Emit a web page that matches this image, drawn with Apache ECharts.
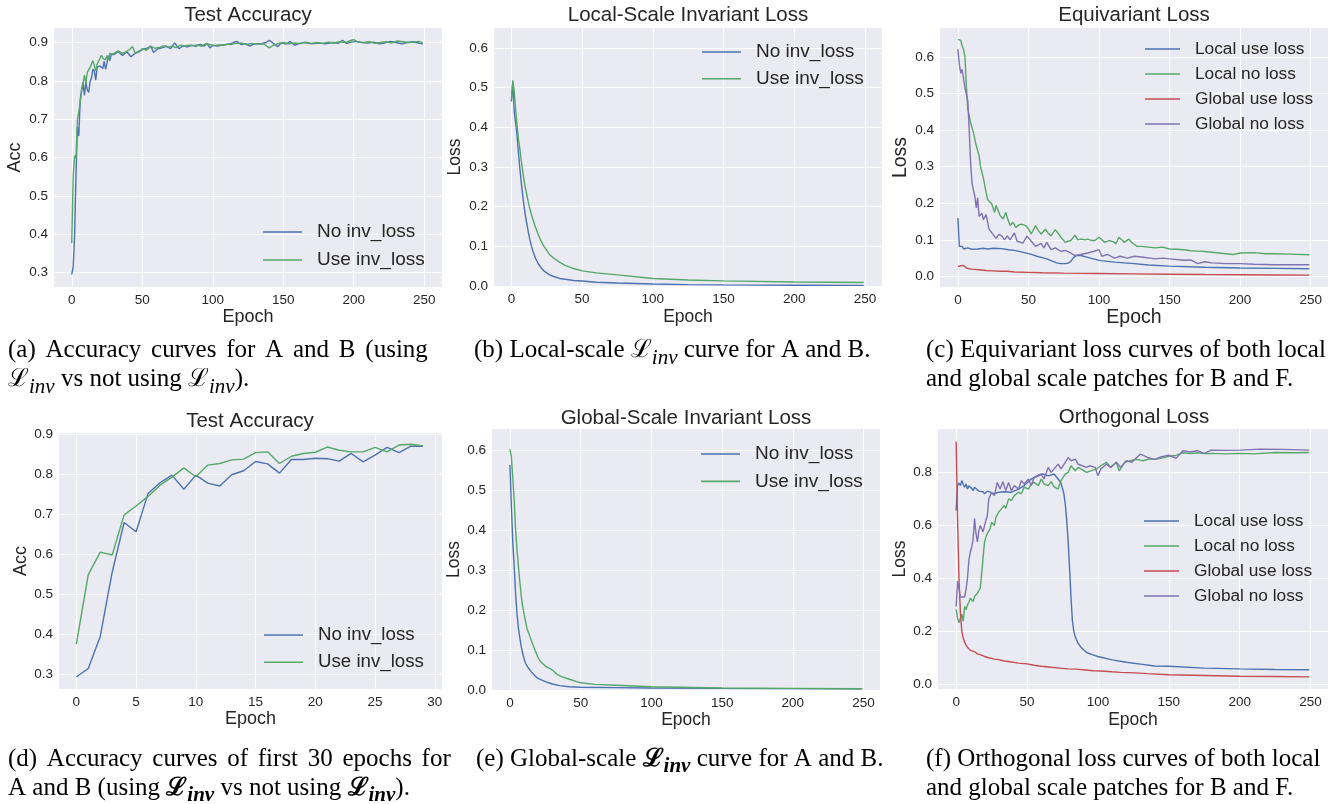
<!DOCTYPE html>
<html>
<head>
<meta charset="UTF-8">
<title>training curves</title>
<script src="https://cdn.jsdelivr.net/npm/echarts@6/dist/echarts.min.js"></script>
<style>
html, body { margin: 0; padding: 0; background: #fff; }
#main { width: 1338px; height: 804px; }
</style>
</head>
<body>
<div id="main"></div>
<script>
// ---- tick labels ----
var epochTicks = [0, 50, 100, 150, 200, 250];
var firstTicks = [0, 5, 10, 15, 20, 25, 30];
var accTicks = [0.3, 0.4, 0.5, 0.6, 0.7, 0.8, 0.9];
var lossTicks = [0, 0.1, 0.2, 0.3, 0.4, 0.5, 0.6];
var orthoTicks = [0, 0.2, 0.4, 0.6, 0.8];

// ---- test accuracy, first 30 epochs (a, d) ----
var firstEpochs = [0,1,2,3,4,5,6,7,8,9,10,11,12,13,14,15,16,17,18,19,20,21,22,23,24,25,26,27,28,29];
var accNoFirst = [0.294,0.315,0.395,0.555,0.679,0.656,0.751,0.778,0.797,0.762,0.797,0.777,0.770,0.798,0.808,
                  0.831,0.825,0.802,0.836,0.836,0.839,0.838,0.832,0.851,0.830,0.847,0.866,0.853,0.869,0.869];
var accUseFirst = [0.376,0.549,0.605,0.598,0.698,0.720,0.744,0.772,0.792,0.815,0.793,0.822,0.826,0.835,0.837,
                   0.853,0.855,0.826,0.844,0.851,0.854,0.867,0.859,0.855,0.855,0.866,0.855,0.872,0.874,0.870];
// rest of the 250 epochs, [epoch, acc]
var accNoLater = [[30,0.869],[33,0.876],[36,0.866],[39,0.876],[42,0.863],[45,0.872],[48,0.878],[51,0.883],[54,0.886],
  [56,0.891],[58,0.874],[61,0.884],[64,0.886],[67,0.891],[70,0.884],[73,0.899],[76,0.884],[79,0.891],[82,0.889],
  [85,0.893],[88,0.89],[91,0.895],[94,0.891],[96,0.897],[98,0.886],[100,0.893],[103,0.891],[106,0.893],[110,0.895],
  [113,0.898],[117,0.903],[120,0.895],[123,0.897],[126,0.891],[130,0.897],[134,0.897],[138,0.9],[140,0.906],
  [143,0.898],[146,0.889],[149,0.9],[152,0.896],[155,0.903],[158,0.893],[161,0.897],[165,0.9],[170,0.897],
  [175,0.899],[180,0.897],[185,0.9],[189,0.898],[192,0.906],[195,0.898],[198,0.901],[202,0.903],[206,0.9],
  [210,0.899],[214,0.901],[218,0.897],[222,0.899],[226,0.903],[230,0.9],[234,0.897],[238,0.9],[242,0.902],
  [246,0.899],[249,0.896]];
var accUseLater = [[30,0.872],[33,0.878],[36,0.872],[39,0.877],[41,0.882],[43,0.89],[45,0.872],[48,0.876],[50,0.884],
  [53,0.88],[56,0.89],[59,0.885],[62,0.887],[65,0.891],[68,0.888],[71,0.89],[74,0.887],[77,0.893],[80,0.891],
  [83,0.893],[86,0.892],[89,0.894],[92,0.89],[95,0.897],[98,0.895],[101,0.892],[104,0.894],[107,0.893],[110,0.896],
  [113,0.895],[116,0.898],[120,0.899],[124,0.895],[128,0.898],[132,0.896],[136,0.897],[140,0.886],[143,0.893],
  [147,0.898],[150,0.9],[154,0.897],[158,0.899],[162,0.898],[166,0.901],[170,0.898],[174,0.9],[178,0.898],
  [182,0.901],[186,0.899],[190,0.902],[194,0.9],[197,0.904],[200,0.908],[203,0.901],[207,0.9],[211,0.902],
  [215,0.898],[219,0.9],[223,0.902],[227,0.899],[231,0.904],[235,0.902],[239,0.9],[243,0.901],[246,0.903],[249,0.899]];

// ---- local-scale invariant loss (b) ----
var invLocalNo = [[0,0.465],[1,0.514],[2,0.44],[3,0.41],[4,0.378],[5,0.335],[6,0.295],[7,0.26],[8,0.228],[9,0.2],
  [10,0.175],[11,0.155],[12,0.135],[13,0.118],[14,0.103],[15,0.09],[17,0.07],[19,0.056],[21,0.046],[23,0.038],
  [25,0.033],[27,0.028],[30,0.024],[34,0.019],[38,0.017],[44,0.014],[50,0.0125],[60,0.0095],[75,0.0075],
  [100,0.005],[125,0.0035],[150,0.0028],[200,0.002],[249,0.0017]];
var invLocalUse = [[0,0.47],[1,0.518],[2,0.49],[3,0.445],[4,0.405],[5,0.37],[6,0.345],[7,0.315],[8,0.29],[9,0.265],
  [10,0.245],[11,0.228],[12,0.21],[13,0.195],[14,0.182],[15,0.17],[17,0.148],[19,0.13],[21,0.113],[23,0.1],
  [25,0.09],[27,0.079],[30,0.07],[34,0.06],[38,0.052],[44,0.044],[50,0.038],[60,0.033],[75,0.028],[100,0.019],
  [125,0.015],[150,0.013],[200,0.01],[249,0.009]];

// ---- equivariant loss (c) ----
var eqLocalUse = [[0,0.16],[1,0.082],[2,0.078],[3,0.082],[4,0.075],[5,0.073],[7,0.078],[10,0.074],[14,0.075],
  [18,0.077],[21,0.075],[25,0.077],[31,0.076],[36,0.073],[40,0.071],[45,0.067],[52,0.06],[56,0.055],[59,0.052],
  [63,0.048],[66,0.043],[70,0.037],[73,0.035],[76,0.035],[78,0.036],[80,0.041],[82,0.052],[84,0.057],[87,0.057],
  [90,0.054],[94,0.05],[98,0.046],[101,0.043],[106,0.041],[111,0.039],[118,0.037],[125,0.035],[135,0.031],
  [150,0.028],[175,0.025],[200,0.023],[225,0.022],[249,0.021]];
var eqLocalNo = [[0,0.648],[1,0.644],[2,0.645],[3,0.63],[4,0.62],[5,0.6],[6,0.52],[7,0.456],[8,0.44],[9,0.42],
  [11,0.393],[13,0.357],[15,0.33],[16,0.3],[17,0.285],[18,0.27],[19,0.265],[20,0.229],[21,0.21],[22,0.205],
  [24,0.198],[26,0.175],[27,0.194],[28,0.19],[30,0.166],[32,0.157],[34,0.175],[35,0.16],[37,0.139],[39,0.148],
  [41,0.134],[43,0.14],[45,0.143],[48,0.139],[50,0.13],[52,0.116],[55,0.139],[57,0.125],[59,0.116],[62,0.129],
  [64,0.118],[66,0.111],[69,0.128],[71,0.118],[73,0.107],[76,0.093],[78,0.096],[80,0.098],[83,0.113],[85,0.1],
  [87,0.102],[90,0.1],[92,0.102],[95,0.098],[97,0.098],[100,0.107],[102,0.1],[104,0.093],[107,0.098],[110,0.095],
  [112,0.089],[114,0.107],[116,0.1],[118,0.093],[121,0.102],[124,0.09],[127,0.082],[130,0.082],[135,0.08],
  [140,0.078],[145,0.08],[150,0.075],[155,0.074],[160,0.073],[165,0.07],[170,0.069],[175,0.068],[180,0.066],
  [185,0.064],[190,0.062],[195,0.06],[200,0.064],[210,0.065],[218,0.062],[225,0.062],[235,0.061],[249,0.059]];
var eqGlobalUse = [[0,0.027],[1,0.026],[2,0.029],[3,0.028],[4,0.03],[5,0.028],[6,0.023],[8,0.021],[10,0.02],
  [15,0.018],[20,0.016],[25,0.015],[30,0.014],[35,0.014],[40,0.012],[50,0.011],[60,0.01],[75,0.009],[100,0.008],
  [125,0.007],[150,0.006],[175,0.005],[200,0.0045],[225,0.004],[249,0.0035]];
var eqGlobalNo = [[0,0.621],[1,0.58],[2,0.555],[3,0.566],[4,0.569],[5,0.515],[6,0.52],[7,0.48],[8,0.4],[9,0.31],
  [10,0.255],[11,0.235],[12,0.219],[13,0.187],[14,0.215],[15,0.164],[17,0.173],[18,0.155],[20,0.169],[22,0.13],
  [23,0.128],[25,0.114],[27,0.104],[29,0.115],[31,0.111],[33,0.1],[35,0.111],[37,0.1],[40,0.119],[42,0.096],
  [46,0.091],[49,0.11],[52,0.096],[55,0.082],[59,0.09],[61,0.078],[63,0.093],[66,0.073],[69,0.078],[73,0.068],
  [76,0.071],[80,0.064],[83,0.057],[87,0.06],[92,0.064],[96,0.068],[100,0.073],[102,0.055],[106,0.06],[111,0.05],
  [115,0.055],[120,0.05],[125,0.055],[130,0.053],[140,0.048],[145,0.05],[150,0.048],[160,0.044],[165,0.045],
  [170,0.035],[175,0.04],[180,0.037],[190,0.035],[200,0.035],[210,0.033],[225,0.032],[249,0.032]];

// ---- global-scale invariant loss (e) ----
var invGlobalNo = [[0,0.564],[1,0.46],[2,0.37],[3,0.31],[4,0.24],[5,0.19],[6,0.155],[7,0.13],[8,0.108],[9,0.092],
  [10,0.078],[11,0.067],[13,0.055],[15,0.046],[17,0.038],[19,0.031],[21,0.027],[25,0.021],[30,0.015],[35,0.011],
  [42,0.008],[50,0.007],[75,0.006],[100,0.005],[150,0.004],[200,0.0035],[249,0.003]];
var invGlobalUse = [[0,0.603],[1,0.585],[2,0.53],[3,0.476],[4,0.4],[5,0.35],[6,0.31],[7,0.27],[8,0.235],[9,0.209],
  [10,0.19],[11,0.172],[12,0.155],[14,0.135],[16,0.115],[18,0.097],[20,0.08],[22,0.07],[25,0.06],[28,0.054],
  [30,0.05],[33,0.04],[36,0.034],[42,0.027],[50,0.018],[60,0.014],[75,0.012],[100,0.008],[150,0.005],[200,0.004],
  [249,0.003]];

// ---- orthogonal loss (f) ----
var orthoLocalUse = [[0,0.657],[1,0.753],[2,0.761],[3,0.751],[4,0.77],[5,0.755],[6,0.745],[7,0.757],[8,0.738],
  [9,0.75],[10,0.753],[11,0.74],[12,0.732],[13,0.745],[14,0.738],[16,0.73],[17,0.726],[19,0.728],[20,0.72],
  [22,0.73],[24,0.726],[26,0.72],[28,0.722],[30,0.726],[34,0.728],[39,0.726],[44,0.738],[48,0.751],[53,0.776],
  [58,0.788],[61,0.795],[65,0.788],[69,0.795],[72,0.776],[74,0.76],[76,0.72],[77,0.68],[78,0.62],[79,0.54],
  [80,0.44],[81,0.33],[82,0.24],[83,0.2],[84,0.18],[86,0.155],[88,0.14],[92,0.12],[96,0.112],[100,0.105],
  [110,0.092],[120,0.083],[130,0.076],[140,0.069],[150,0.068],[175,0.061],[200,0.058],[225,0.056],[249,0.055]];
var orthoLocalNo = [[0,0.282],[1,0.25],[2,0.232],[3,0.25],[4,0.265],[5,0.238],[6,0.294],[7,0.282],[8,0.3],[9,0.31],
  [10,0.325],[11,0.318],[12,0.313],[13,0.332],[14,0.335],[15,0.344],[16,0.35],[17,0.363],[18,0.419],[19,0.426],
  [20,0.538],[21,0.557],[22,0.57],[24,0.588],[25,0.613],[27,0.6],[28,0.63],[30,0.651],[32,0.663],[34,0.676],
  [35,0.665],[37,0.701],[39,0.695],[41,0.713],[44,0.726],[46,0.72],[48,0.745],[51,0.738],[53,0.757],[55,0.763],
  [58,0.751],[60,0.776],[62,0.757],[65,0.751],[67,0.766],[69,0.747],[72,0.738],[74,0.77],[77,0.795],[79,0.801],
  [81,0.826],[84,0.807],[86,0.82],[88,0.814],[92,0.801],[95,0.807],[99,0.814],[102,0.826],[106,0.839],[109,0.82],
  [113,0.839],[115,0.807],[119,0.839],[123,0.845],[127,0.85],[132,0.845],[136,0.852],[140,0.85],[145,0.855],
  [150,0.862],[155,0.865],[160,0.875],[165,0.872],[170,0.875],[175,0.872],[180,0.873],[190,0.871],[200,0.873],
  [210,0.871],[225,0.876],[240,0.875],[249,0.876]];
var orthoGlobalUse = [[0,0.918],[1,0.62],[2,0.4],[3,0.27],[4,0.2],[5,0.175],[6,0.158],[7,0.148],[8,0.14],[10,0.128],
  [11,0.122],[13,0.123],[15,0.115],[17,0.112],[20,0.105],[23,0.1],[27,0.095],[30,0.093],[34,0.088],[38,0.085],
  [44,0.08],[50,0.077],[55,0.072],[60,0.068],[67,0.064],[73,0.061],[79,0.058],[85,0.057],[91,0.054],[97,0.051],
  [102,0.05],[110,0.047],[116,0.045],[126,0.043],[135,0.04],[150,0.036],[175,0.033],[200,0.03],[225,0.029],
  [249,0.028]];
var orthoGlobalNo = [[0,0.294],[1,0.39],[2,0.36],[3,0.33],[4,0.325],[6,0.33],[7,0.36],[8,0.4],[9,0.47],[10,0.5],
  [11,0.519],[12,0.55],[13,0.626],[14,0.57],[15,0.538],[16,0.58],[17,0.6],[18,0.607],[19,0.576],[20,0.6],
  [22,0.638],[23,0.7],[25,0.726],[27,0.713],[29,0.763],[31,0.738],[33,0.766],[35,0.732],[37,0.763],[39,0.732],
  [41,0.751],[44,0.738],[46,0.77],[48,0.757],[51,0.776],[53,0.751],[55,0.782],[58,0.791],[60,0.795],[62,0.776],
  [65,0.82],[67,0.801],[70,0.82],[72,0.832],[74,0.814],[77,0.839],[79,0.857],[81,0.845],[84,0.851],[86,0.832],
  [88,0.828],[92,0.82],[94,0.826],[98,0.82],[100,0.788],[102,0.814],[106,0.832],[109,0.82],[113,0.839],[116,0.82],
  [120,0.845],[124,0.839],[127,0.855],[130,0.87],[135,0.858],[140,0.85],[145,0.86],[150,0.866],[155,0.854],
  [160,0.883],[165,0.878],[170,0.883],[175,0.873],[180,0.885],[190,0.884],[200,0.885],[215,0.889],[230,0.888],
  [249,0.885]];

var invNames = ['No inv_loss', 'Use inv_loss'];
var fourNames = ['Local use loss', 'Local no loss', 'Global use loss', 'Global no loss'];

// seaborn "deep" colours
var BLUE = '#4C72B0', GREEN = '#55A868', RED = '#C44E52', PURPLE = '#8172B2';
var INK = '#262626';
var SANS = '"Liberation Sans", Arial, sans-serif';
var SERIF = '"Liberation Serif", "Times New Roman", serif';

function pairs(xs, ys) {
  return ys.map(function (v, i) { return [xs[i], v]; });
}

// one entry per subplot
var panels = [
  { title: 'Test Accuracy', cx: 248, cy: 15,
    grid: [54, 28, 388, 259], xr: [-12.6, 262.6], yr: [0.262, 0.938], xt: epochTicks, yt: accTicks,
    yName: 'Acc', yGap: 30, xGap: 20, nameSize: 18,
    lg: { left: 263, top: 222, w: 39, gap: 8, fs: 19, lh: 20 },
    series: [[invNames[0], BLUE, pairs(firstEpochs, accNoFirst).concat(accNoLater)],
             [invNames[1], GREEN, pairs(firstEpochs, accUseFirst).concat(accUseLater)]] },
  { title: 'Local-Scale Invariant Loss', cx: 688, cy: 15,
    grid: [494, 28, 388, 258], xr: [-12.3, 262], yr: [0, 0.65], xt: epochTicks, yt: lossTicks,
    yName: 'Loss', yGap: 30, xGap: 22, nameSize: 17.5,
    lg: { left: 702, top: 42, w: 39, gap: 6.7, fs: 19, lh: 20 },
    series: [[invNames[0], BLUE, invLocalNo], [invNames[1], GREEN, invLocalUse]] },
  { title: 'Equivariant Loss', cx: 1134, cy: 15,
    grid: [940, 28, 388, 259], xr: [-12.7, 262.3], yr: [-0.029, 0.679], xt: epochTicks, yt: lossTicks,
    yName: 'Loss', yGap: 29, xGap: 20, nameSize: 19.5,
    lg: { left: 1145, top: 40, w: 35, gap: 7, fs: 17.3, lh: 18 },
    series: [[fourNames[0], BLUE, eqLocalUse], [fourNames[1], GREEN, eqLocalNo],
             [fourNames[2], RED, eqGlobalUse], [fourNames[3], PURPLE, eqGlobalNo]] },
  { title: 'Test Accuracy', cx: 250, cy: 421,
    grid: [59, 433, 383, 256], xr: [-1.45, 30.6], yr: [0.264, 0.902], xt: firstTicks, yt: accTicks,
    yName: 'Acc', yGap: 29, xGap: 21, nameSize: 18,
    lg: { left: 264, top: 625, w: 39, gap: 7.3, fs: 18.7, lh: 20 },
    series: [[invNames[0], BLUE, pairs(firstEpochs, accNoFirst)], [invNames[1], GREEN, pairs(firstEpochs, accUseFirst)]] },
  { title: 'Global-Scale Invariant Loss', cx: 686, cy: 418,
    grid: [492, 429, 388, 261], xr: [-12.7, 261.6], yr: [0, 0.654], xt: epochTicks, yt: lossTicks,
    yName: 'Loss', yGap: 26, xGap: 21, nameSize: 17.5,
    lg: { left: 701, top: 444, w: 39, gap: 7.4, fs: 19, lh: 20 },
    series: [[invNames[0], BLUE, invGlobalNo], [invNames[1], GREEN, invGlobalUse]] },
  { title: 'Orthogonal Loss', cx: 1134, cy: 417,
    grid: [938, 429, 390, 260], xr: [-12.8, 262.3], yr: [-0.018, 0.965], xt: epochTicks, yt: orthoTicks,
    yName: 'Loss', yGap: 29, xGap: 22, nameSize: 17.5,
    lg: { left: 1144, top: 512, w: 35, gap: 7, fs: 17.3, lh: 18 },
    series: [[fourNames[0], BLUE, orthoLocalUse], [fourNames[1], GREEN, orthoLocalNo],
             [fourNames[2], RED, orthoGlobalUse], [fourNames[3], PURPLE, orthoGlobalNo]] }
];

// captions below each row; words joined by a space token whose width
// mimics the justified LaTeX lines
function words(text, sp) {
  return text.split(' ').map(function (w) { return '{t|' + w + '}'; }).join('{' + sp + '| }');
}
var captions = [
  { x: 8, y: 334, lines: [words('(a) Accuracy curves for A and B (using', 'spA'),
                          '{L|ℒ}{s|inv}{t| vs not using }{L|ℒ}{s|inv}{t|).}'] },
  { x: 474, y: 334, lines: ['{t|(b) Local-scale }{L|ℒ}{s|inv}{t| curve for A and B.}'] },
  { x: 926, y: 334, lines: ['{t|(c) Equivariant loss curves of both local}',
                            '{t|and global scale patches for B and F.}'] },
  { x: 8, y: 743, lines: [words('(d) Accuracy curves of first 30 epochs for', 'spD'),
                          '{t|A and B (using }{LB|ℒ}{sB|inv}{t| vs not using }{LB|ℒ}{sB|inv}{t|).}'] },
  { x: 476, y: 743, lines: ['{t|(e) Global-scale }{LB|ℒ}{sB|inv}{t| curve for A and B.}'] },
  { x: 926, y: 743, lines: ['{t|(f) Orthogonal loss curves of both local}',
                            '{t|and global scale patches for B and F.}'] }
];

// "height" sets where a bottom-aligned token sits, so a small height pushes "inv" down
var capRich = {
  t:   { fontFamily: SERIF, fontSize: 25, lineHeight: 29, verticalAlign: 'bottom', color: '#000' },
  spA: { fontFamily: SERIF, fontSize: 25, lineHeight: 29, verticalAlign: 'bottom', width: 9.8 },
  spD: { fontFamily: SERIF, fontSize: 25, lineHeight: 29, verticalAlign: 'bottom', width: 9.7 },
  L:   { fontFamily: '"DejaVu Serif", serif', fontSize: 25, lineHeight: 29, verticalAlign: 'bottom', color: '#000' },
  s:   { fontFamily: SERIF, fontSize: 21, fontStyle: 'italic', lineHeight: 10, height: 10, verticalAlign: 'bottom', color: '#000' },
  LB:  { fontFamily: '"DejaVu Serif", serif', fontSize: 25, fontWeight: 'bold', lineHeight: 29, verticalAlign: 'bottom', color: '#000' },
  sB:  { fontFamily: SERIF, fontSize: 21, fontStyle: 'italic', fontWeight: 'bold', lineHeight: 10, height: 10, verticalAlign: 'bottom', color: '#000' }
};

var option = {
  animation: false,
  backgroundColor: '#ffffff',
  grid: [], xAxis: [], yAxis: [], legend: [], series: [], graphic: []
};

panels.forEach(function (p, i) {
  option.grid.push({
    left: p.grid[0], top: p.grid[1], width: p.grid[2], height: p.grid[3],
    show: true, backgroundColor: '#EAEAF2', borderWidth: 0
  });
  option.xAxis.push({
    type: 'value', gridIndex: i, min: p.xr[0], max: p.xr[1],
    name: 'Epoch', nameLocation: 'middle', nameGap: p.xGap,
    nameTextStyle: { color: INK, fontSize: p.nameSize, fontFamily: SANS },
    axisLine: { show: false },
    axisTick: { show: false, customValues: p.xt },
    axisLabel: { customValues: p.xt, color: INK, fontSize: 13.5, fontFamily: SANS, margin: 6 },
    splitLine: { show: true, lineStyle: { color: '#ffffff', width: 1.1 } }
  });
  option.yAxis.push({
    type: 'value', gridIndex: i, min: p.yr[0], max: p.yr[1],
    name: p.yName, nameLocation: 'middle', nameGap: p.yGap, nameRotate: 90,
    nameTextStyle: { color: INK, fontSize: p.nameSize, fontFamily: SANS },
    axisLine: { show: false },
    axisTick: { show: false, customValues: p.yt },
    axisLabel: { customValues: p.yt, color: INK, fontSize: 13.5, fontFamily: SANS, margin: 6,
                 formatter: function (v) { return v.toFixed(1); } },
    splitLine: { show: true, lineStyle: { color: '#ffffff', width: 1.1 } }
  });
  option.legend.push({
    data: p.series.map(function (s) { return s[0]; }),
    orient: 'vertical', left: p.lg.left, top: p.lg.top,
    icon: 'rect', itemWidth: p.lg.w, itemHeight: 1.6, itemGap: p.lg.gap, padding: 0,
    selectedMode: false,
    textStyle: { color: INK, fontSize: p.lg.fs, lineHeight: p.lg.lh, fontFamily: SANS, padding: [0, 0, 0, 10] }
  });
  p.series.forEach(function (s) {
    option.series.push({
      type: 'line', name: s[0], xAxisIndex: i, yAxisIndex: i,
      data: s[2], symbol: 'none', showSymbol: false,
      color: s[1], lineStyle: { color: s[1], width: 1.4 }
    });
  });
  option.graphic.push({
    type: 'text', x: p.cx, y: p.cy, silent: true,
    style: { text: p.title, fill: INK, fontSize: 20.5, fontFamily: SANS,
             align: 'center', verticalAlign: 'middle', textAlign: 'center', textVerticalAlign: 'middle' }
  });
});

captions.forEach(function (c) {
  c.lines.forEach(function (line, k) {
    option.graphic.push({
      type: 'text', x: c.x, y: c.y + k * 29, silent: true,
      style: { text: line, rich: capRich, fill: '#000', fontSize: 25, fontFamily: SERIF,
               align: 'left', verticalAlign: 'top' }
    });
  });
});

var myChart = echarts.init(document.getElementById('main'));
myChart.setOption(option);
</script>
</body>
</html>
